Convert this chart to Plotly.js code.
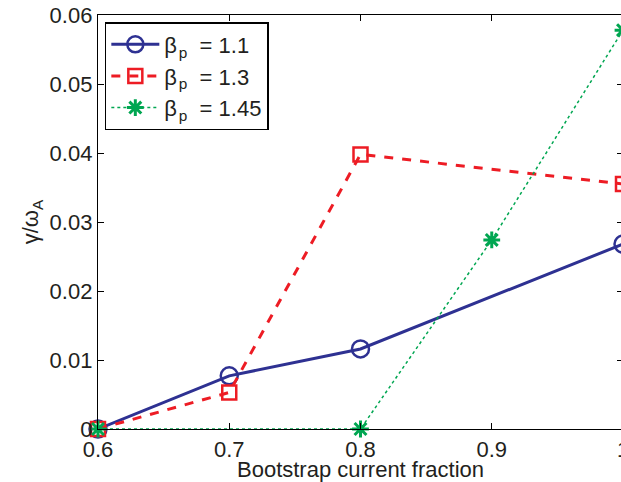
<!DOCTYPE html>
<html>
<head>
<meta charset="utf-8">
<script src="https://cdn.plot.ly/plotly-3.0.1.min.js"></script>
<style>
  html, body { margin: 0; padding: 0; overflow: hidden; background: #fff; }
  #plot { width: 630px; height: 482px; }
</style>
</head>
<body>
<div id="plot"></div>
<script>
// Growth rate vs bootstrap current fraction for three beta_p values
const fracA = [0.6, 0.7, 0.8, 1.0];
const gammaA = [0, 0.0077, 0.0116, 0.0268];   // beta_p = 1.1

const fracB = [0.6, 0.7, 0.8, 1.0];
const gammaB = [0, 0.0053, 0.0398, 0.0355];   // beta_p = 1.3

const fracC = [0.6, 0.8, 0.9, 1.0];
const gammaC = [0, 0, 0.0274, 0.0578];        // beta_p = 1.45

const betaValues = ['1.1', '1.3', '1.45'];
const seriesNames = betaValues.map(v => 'β\u200a<sub>p</sub>\u00a0 = ' + v);
const xTicks = [0.6, 0.7, 0.8, 0.9, 1.0];
const yTicks = [0, 0.01, 0.02, 0.03, 0.04, 0.05, 0.06];

const blue = '#2e3192', red = '#ed1c24', green = '#00a651';

const traces = [
  {
    x: fracA, y: gammaA, name: seriesNames[0], mode: 'lines+markers',
    line: {color: blue, width: 3},
    marker: {symbol: 'circle-open', size: 17, color: blue, line: {width: 2.5, color: blue}},
    cliponaxis: false
  },
  {
    x: fracB, y: gammaB, name: seriesNames[1], mode: 'lines+markers',
    line: {color: red, width: 3, dash: 'dash'},
    marker: {symbol: 'square-open', size: 14, color: red, line: {width: 2.5, color: red}},
    cliponaxis: false
  },
  {
    x: fracC, y: gammaC, name: seriesNames[2], mode: 'lines+markers',
    line: {color: green, width: 1.5, dash: 'dot'},
    marker: {symbol: 'asterisk-open', size: 14, color: green, line: {width: 3, color: green}},
    cliponaxis: false
  }
];

const axisFont = {family: 'Liberation Sans, Arial, sans-serif', size: 22, color: '#231f20'};

const layout = {
  width: 630, height: 482,
  margin: {l: 98, r: 7, t: 15, b: 53},
  paper_bgcolor: '#fff', plot_bgcolor: '#fff',
  font: axisFont,
  showlegend: true,
  legend: {
    x: 0.013, y: 0.983, xanchor: 'left', yanchor: 'top',
    bgcolor: '#fff', bordercolor: '#000', borderwidth: 1.5,
    font: {family: 'Liberation Sans, Arial, sans-serif', size: 22, color: '#231f20'},
    itemwidth: 48, tracegroupgap: 0
  },
  xaxis: {
    range: [0.6, 1.0], tickvals: xTicks, ticktext: xTicks.map(v => v === 1 ? '1' : v.toFixed(1)),
    ticks: 'inside', ticklen: 6, tickwidth: 1, tickcolor: '#000',
    showline: true, linecolor: '#000', linewidth: 1.2, mirror: 'ticks',
    showgrid: false, zeroline: false,
    tickfont: axisFont,
    title: {text: 'Bootstrap current fraction', font: axisFont, standoff: 3}
  },
  yaxis: {
    range: [0, 0.06], tickvals: yTicks, ticktext: yTicks.map(v => v === 0 ? '0' : v.toFixed(2)),
    ticks: 'inside', ticklen: 6, tickwidth: 1, tickcolor: '#000',
    showline: true, linecolor: '#000', linewidth: 1.2, mirror: 'ticks',
    showgrid: false, zeroline: false,
    tickfont: axisFont,
    title: {text: 'γ/ω<sub>A</sub>', font: axisFont, standoff: 4}
  }
};

Plotly.newPlot('plot', traces, layout, {displayModeBar: false, staticPlot: true});
</script>
</body>
</html>
